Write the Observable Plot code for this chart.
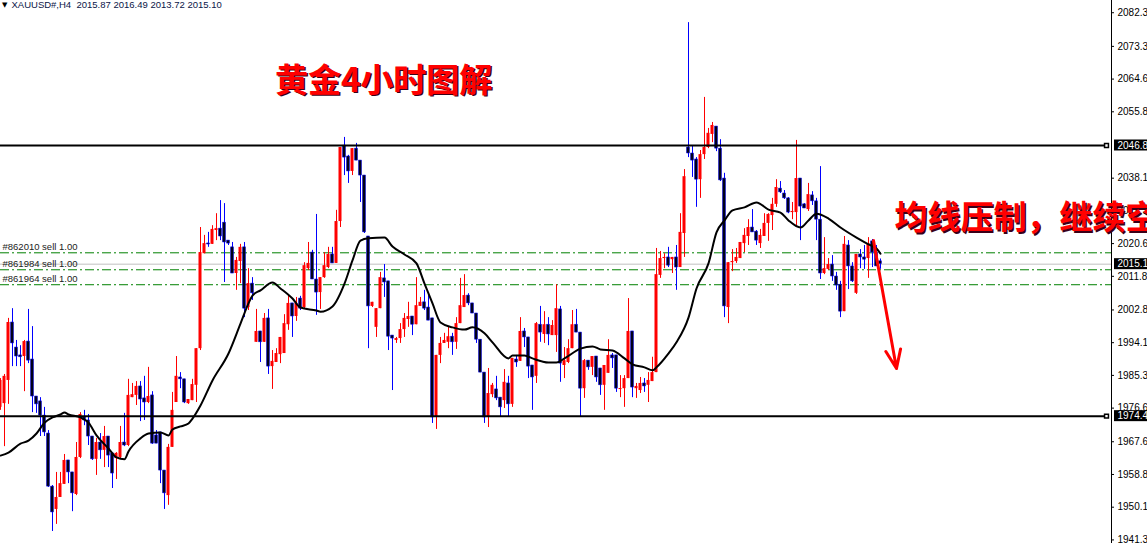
<!DOCTYPE html>
<html><head><meta charset="utf-8">
<script src="https://cdn.jsdelivr.net/npm/d3@7"></script>
<script src="https://cdn.jsdelivr.net/npm/@observablehq/plot@0.6"></script>
<style>
html,body{margin:0;padding:0;background:#fff;overflow:hidden}
#chart svg{display:block}
</style></head><body><div id="chart"></div>
<script>
// ---------- data ----------
const symbol = "XAUUSD#";
const timeframe = "H4";

const opens = [1976.8,1977.8,1984.0,1999.5,1992.8,1990.7,1990.4,1994.4,1989.6,1979.7,
1978.4,1974.6,1969.8,1955.6,1949.5,1952.7,1956.2,1962.6,1959.4,1953.5,
1963.4,1974.1,1973.3,1969.0,1962.9,1967.4,1965.3,1969.0,1964.5,1963.1,
1963.4,1967.4,1966.6,1979.4,1980.0,1982.4,1979.2,1978.1,1980.0,1969.3,
1970.1,1959.9,1953.2,1966.1,1978.1,1984.8,1984.3,1977.8,1978.6,1982.7,
1992.5,2017.9,2020.6,2020.4,2024.1,2024.6,2026.2,2021.4,2019.6,2012.6,
2015.8,2019.6,2003.5,2009.9,1994.2,1997.1,1994.2,2000.6,1987.7,1988.8,
1990.9,1991.2,1998.9,2004.6,2001.1,2005.9,2003.5,2013.9,2018.2,2011.0,
2007.5,2011.5,2014.2,2017.7,2015.3,2026.5,2046.8,2043.9,2039.9,2046.0,
2042.8,2038.8,2022.5,2003.8,1998.2,2003.2,2011.3,2010.5,1996.0,1994.7,
1995.2,1997.6,2000.3,2001.1,1998.9,2003.8,2004.9,2003.5,2000.6,1974.1,
1990.7,1993.9,1994.2,1995.7,1994.2,1999.2,2003.5,2006.7,2004.6,2001.9,
1994.9,1986.1,1974.1,1980.2,1981.6,1979.4,1978.6,1983.2,1977.6,1989.6,
1989.1,1997.1,1995.5,1988.0,1985.1,1998.9,1996.3,1998.9,1996.0,1996.0,
2003.0,1988.0,1988.8,1992.5,1998.9,1996.8,1981.8,1989.3,1987.5,1990.4,
1987.2,1982.7,1985.9,1990.7,1990.7,1981.6,1981.8,1984.5,1997.1,1981.8,
1981.3,1983.2,1982.7,1983.7,1986.1,2012.1,2016.6,2016.9,2016.3,2016.9,
2014.2,2023.3,2046.3,2044.7,2043.1,2037.7,2044.4,2046.3,2049.8,2051.9,
2046.0,2038.0,2003.5,2015.5,2015.8,2016.6,2020.6,2022.5,2024.9,2023.8,
2020.6,2022.5,2026.0,2028.1,2031.1,2035.3,2034.0,2032.7,2028.9,2028.9,
2038.0,2031.1,2029.7,2033.5,2031.9,2027.0,2012.6,2013.7,2015.0,2011.8,
2009.6,2002.4,2020.1,2014.5,2007.3,2017.7,2016.9,2016.6,2021.2,2018.2,
2015.87];
const highs = [1984.5,1985.6,2000.6,2003.2,1994.7,1993.3,1994.7,2003.0,1998.4,1979.7,
1979.4,1976.8,1970.6,1955.9,1959.4,1959.4,1964.2,1962.6,1959.4,1967.4,
1975.4,1976.0,1974.9,1969.0,1968.5,1969.8,1971.7,1969.0,1964.5,1964.7,
1971.7,1975.2,1984.3,1983.2,1983.7,1983.7,1985.1,1987.5,1981.0,1970.6,
1970.1,1959.9,1966.9,1980.8,1990.4,1986.1,1984.3,1978.9,1984.3,1992.5,
2024.9,2022.8,2023.6,2025.4,2028.6,2032.1,2031.3,2021.4,2020.9,2016.9,
2020.4,2020.9,2013.9,2011.5,2003.0,1997.1,2001.9,2003.0,1992.0,1992.5,
1995.5,2001.6,2006.7,2004.6,2006.2,2006.5,2015.5,2020.9,2018.8,2028.4,
2011.5,2018.2,2019.6,2019.6,2029.5,2046.3,2049.0,2044.2,2046.0,2047.4,
2042.8,2038.8,2022.5,2004.9,2003.2,2012.9,2015.0,2010.5,1996.0,1995.5,
1999.2,2001.9,2004.9,2001.1,2011.5,2006.2,2008.1,2006.7,2000.6,1990.7,
1995.5,1996.6,1998.2,1996.6,2000.8,2011.3,2012.3,2007.2,2004.6,2001.9,
1994.9,1986.1,1987.2,1983.2,1985.1,1979.4,1986.9,1985.1,1989.9,1990.7,
2000.8,1997.9,1995.5,1988.0,1999.5,2003.8,2002.4,2000.8,2000.0,2009.6,
2003.8,1992.8,1994.9,2002.7,2003.0,1996.8,1989.6,1989.3,1990.4,1990.4,
1987.2,1988.0,1994.9,1991.2,1990.7,1985.3,1985.3,2005.9,1997.1,1983.2,
1984.8,1984.5,1986.1,1990.2,2019.3,2018.5,2017.9,2019.6,2016.9,2020.1,
2028.6,2040.4,2079.7,2046.8,2043.6,2045.5,2059.7,2051.4,2053.0,2051.9,
2048.4,2039.4,2015.5,2019.0,2019.3,2020.9,2024.6,2027.0,2029.7,2024.1,
2024.4,2028.6,2028.6,2032.7,2037.7,2037.2,2034.8,2032.9,2031.6,2048.2,
2038.0,2031.3,2036.7,2034.5,2032.7,2041.2,2022.2,2016.6,2017.4,2012.9,
2010.5,2022.5,2021.4,2015.5,2017.7,2019.0,2020.1,2022.2,2021.7,2020.1,
2016.49];
const lows = [1976.0,1966.3,1977.6,1987.7,1987.7,1987.7,1981.0,1988.5,1975.4,1975.2,
1969.0,1969.0,1955.4,1943.6,1945.5,1952.7,1956.2,1956.4,1948.9,1953.2,
1963.1,1971.9,1966.6,1962.6,1958.6,1962.9,1960.7,1960.7,1955.1,1957.5,
1962.9,1966.3,1966.3,1979.4,1977.3,1973.0,1973.3,1977.8,1966.9,1967.1,
1956.4,1949.5,1950.6,1966.1,1978.1,1981.8,1977.8,1977.6,1978.6,1978.1,
1992.0,2017.9,2019.6,2020.4,2021.4,2021.4,2010.2,2020.1,2012.6,2008.1,
2009.9,2000.8,2002.7,2005.4,1994.2,1988.8,1994.2,1985.6,1981.6,1988.8,
1988.5,1991.2,1997.4,1995.5,1999.8,2002.7,2003.2,2013.4,2011.0,2001.4,
2003.0,2011.3,2013.9,2015.3,2015.3,2024.9,2038.8,2036.7,2038.8,2042.8,
2031.6,2023.3,1992.5,2003.5,1995.5,2003.2,2006.2,1992.0,1981.3,1993.9,
1993.9,1995.5,1998.2,1996.0,1998.9,2003.8,2002.7,2000.0,1972.5,1970.9,
1988.5,1993.9,1992.5,1990.7,1992.3,1999.2,2003.5,2004.0,2001.9,1993.9,
1986.1,1972.5,1971.4,1979.4,1978.6,1974.1,1976.5,1974.1,1976.8,1987.5,
1989.1,1992.8,1984.5,1976.0,1983.2,1994.2,1993.9,1993.3,1996.0,1991.5,
1983.5,1984.5,1988.5,1992.5,1996.8,1974.1,1979.2,1986.7,1985.3,1983.5,
1980.0,1976.0,1985.9,1987.2,1980.8,1979.4,1976.8,1984.5,1979.4,1979.2,
1980.5,1980.8,1978.1,1983.7,1986.1,2011.3,2013.9,2014.2,2012.6,2008.1,
2014.2,2016.9,2043.6,2038.3,2030.3,2032.7,2043.1,2046.0,2047.6,2045.2,
2037.2,2000.8,1999.2,2013.1,2015.3,2016.6,2018.2,2020.1,2023.6,2020.1,
2019.3,2022.5,2021.2,2024.1,2030.3,2034.0,2032.4,2028.6,2027.0,2025.4,
2021.4,2030.0,2029.2,2030.8,2021.4,2011.0,2012.3,2013.4,2010.5,2008.1,
2000.8,2002.4,2008.3,2010.2,2007.0,2013.9,2013.7,2011.3,2014.2,2014.5,
2013.72];
const closes = [1984.0,1985.1,1999.5,1993.9,1990.4,1990.2,1994.4,1989.3,1979.7,1977.6,
1974.6,1970.1,1955.6,1948.7,1952.7,1956.4,1962.6,1959.4,1953.8,1963.4,
1974.9,1973.3,1969.0,1962.9,1967.4,1965.3,1969.0,1963.9,1959.1,1964.5,
1967.4,1966.6,1980.0,1980.2,1982.4,1978.9,1978.1,1979.7,1967.1,1967.1,
1959.9,1953.8,1966.1,1976.0,1985.1,1984.3,1978.1,1978.9,1982.9,1992.5,
2018.2,2020.6,2020.4,2024.4,2024.6,2022.5,2020.9,2020.6,2012.6,2016.1,
2019.6,2003.2,2009.9,2007.3,1997.1,1994.2,2000.6,1987.7,1989.1,1991.2,
1995.5,1999.2,2004.6,2001.1,2004.6,2003.2,2014.7,2015.3,2011.0,2007.5,
2011.5,2014.7,2017.7,2015.3,2026.5,2046.3,2043.6,2039.9,2046.0,2042.8,
2038.8,2023.6,2003.8,2004.9,2003.2,2011.5,2010.2,1995.7,1995.2,1995.2,
1997.6,2000.6,2001.1,1998.9,2004.0,2004.9,2003.2,2000.0,1974.1,1990.7,
1993.9,1994.7,1995.7,1994.2,1999.2,2004.0,2006.7,2004.6,2001.9,1994.9,
1986.1,1974.1,1980.5,1982.7,1979.2,1976.8,1983.5,1977.6,1989.9,1988.8,
1997.1,1995.5,1987.7,1984.8,1999.2,1996.8,1998.9,1996.3,1998.7,2003.2,
1988.5,1989.3,1992.5,1998.9,1996.8,1981.8,1989.3,1987.5,1990.4,1984.8,
1982.7,1988.0,1990.7,1989.9,1981.8,1981.8,1984.5,1997.1,1982.1,1982.4,
1983.2,1982.4,1984.0,1986.1,2012.3,2016.6,2016.9,2014.7,2016.9,2014.2,
2023.6,2038.5,2044.7,2042.8,2037.7,2044.4,2046.3,2050.1,2052.2,2046.0,
2037.5,2003.8,2015.5,2015.8,2016.9,2020.9,2022.8,2024.9,2023.6,2021.4,
2022.8,2026.0,2028.4,2031.1,2035.6,2034.3,2032.7,2028.9,2029.2,2038.0,
2030.5,2030.0,2033.7,2031.9,2027.0,2012.6,2013.9,2015.0,2011.8,2009.4,
2002.4,2020.4,2014.5,2010.5,2017.7,2016.9,2016.3,2020.6,2018.2,2014.5,
2015.10];

// moving average (black line), read at candle indices
const maIndex = [0,2,5,7,9,11,13,15,16,17,20,22,24,27,29,31,32,35,37,40,42,43,45,47,48,50,53,57,60,62,63,65,68,70,73,75,79,80,83,86,88,90,92,96,98,101,104,106,108,110,113,116,118,121,123,127,128,131,133,137,139,141,145,148,150,153,156,158,161,163,164,167,169,172,174,177,179,181,183,186,189,192,195,197,200,202,204,207,210,214,217,219,220];
const maValue = [1963.9,1964.7,1967.1,1967.9,1969.8,1972.7,1974.1,1974.9,1975.4,1974.9,1974.1,1972.7,1969.3,1965.8,1963.4,1962.9,1965.0,1968.5,1969.8,1970.1,1969.3,1970.9,1971.7,1972.5,1973.8,1977.3,1984.0,1991.2,1999.2,2004.6,2006.7,2008.1,2010.2,2008.6,2005.9,2003.5,2002.7,2002.4,2003.8,2009.9,2016.1,2021.4,2022.0,2022.2,2019.8,2017.7,2015.3,2009.9,2004.6,1999.5,1998.2,1997.6,1998.2,1996.6,1994.2,1989.9,1990.7,1990.7,1989.9,1988.8,1988.8,1989.9,1992.5,1993.1,1992.3,1992.0,1989.9,1988.3,1987.5,1986.7,1987.5,1991.2,1994.2,2000.8,2008.6,2015.3,2023.6,2026.8,2029.5,2030.3,2031.6,2029.7,2028.9,2026.8,2024.9,2026.8,2028.6,2027.3,2024.9,2022.2,2020.4,2019.3,2017.9];

const levels = [2046.84, 1974.45];
const orderPrices = [2018.14, 2013.60, 2009.60];
const orderLabels = ["#862010 sell 1.00", "#861984 sell 1.00", "#861964 sell 1.00"];
const bidPrice = 2015.10;
const axisTicks = [2082.35, 2073.35, 2064.60, 2055.85, 2038.10, 2029.35, 2020.60, 2011.85, 2002.85, 1994.10, 1985.35, 1976.60, 1967.60, 1958.85, 1950.10, 1941.35];
const titleText = "黄金4小时图解";
const noteText = "均线压制，继续空";
// annotation anchors in data units (candle index, price)
const titleAt = {i: 68.6, price: 2064.0};
const noteAt = {i: 223.5, price: 2027.2};
const arrowAt = {x1: 218.25, y1: 2021.4, x2: 224.0, y2: 1987.2};

// ---------- layout ----------
const W = 1147, H = 543, MR = 36, BAR_PX = 4;
const xDomain = [0, (W - MR) / BAR_PX];
const xMax = xDomain[1];
const yDomain = [1940.39, 2085.62];

const candles = opens.map((o, i) => {
  const c = closes[i];
  const top = Math.max(o, c), bot = Math.min(o, c);
  const mid = (top + bot) / 2, half = Math.max((top - bot) / 2, 0.14);
  return {i, o, h: highs[i], l: lows[i], c, up: c > o, top: mid + half, bot: mid - half};
});
const bulls = candles.filter(d => d.up);
const bears = candles.filter(d => !d.up);
const ma = maIndex.map((i, j) => ({i, v: maValue[j]}));
const orders = orderPrices.map((p, j) => ({p, label: orderLabels[j]}));
const last = candles[candles.length - 1];
const header = `${symbol},${timeframe}\u00a0\u00a0${[last.o, last.h, last.l, last.c].map(v => v.toFixed(2)).join(" ")}`;
const highlights = [levels[0], bidPrice, levels[1]];
const cjk = "'Noto Sans CJK SC', sans-serif";
const latin = "'Liberation Sans', Arial, sans-serif";

const chart = Plot.plot({
  width: W, height: H,
  marginTop: 0, marginBottom: 0, marginLeft: 0, marginRight: MR,
  x: {domain: xDomain, axis: null},
  y: {domain: yDomain, axis: null},
  style: {background: "white", fontFamily: latin, fontSize: "10px", color: "black"},
  marks: [
    // price axis on the right
    Plot.ruleX([xMax], {stroke: "black"}),
    Plot.ruleY(axisTicks, {x1: xMax, x2: xMax + 0.75, stroke: "black"}),
    Plot.text(axisTicks, {y: d => d, text: d => d.toFixed(2), frameAnchor: "right", dx: 6, textAnchor: "start", fill: "black", fontSize: 10}),
    // bid line and order lines
    Plot.ruleY([bidPrice], {stroke: "#c0c0c0"}),
    Plot.ruleY(orders, {y: "p", stroke: "#008000", strokeDasharray: "9,3,2,3"}),
    Plot.text(orders, {y: "p", text: "label", frameAnchor: "left", dx: 2, dy: -5.5, textAnchor: "start", fill: "#1c1c1c", fontSize: 9.5}),
    // candles
    Plot.ruleX(bulls, {x: "i", y1: "l", y2: "h", stroke: "#ff0000"}),
    Plot.ruleX(bears, {x: "i", y1: "l", y2: "h", stroke: "#0000ff"}),
    Plot.rect(bulls, {x1: d => d.i - 0.375, x2: d => d.i + 0.375, y1: "bot", y2: "top", fill: "#ff0000"}),
    Plot.rect(bears, {x1: d => d.i - 0.375, x2: d => d.i + 0.375, y1: "bot", y2: "top", fill: "black"}),
    Plot.rect(bears, {x1: d => d.i - 0.3, x2: d => d.i + 0.3, y1: "bot", y2: "top", fill: "none", stroke: "#0000ff", strokeWidth: 0.6}),
    // horizontal levels
    Plot.ruleY(levels, {stroke: "black", strokeWidth: 2, insetRight: 5}),
    Plot.dot(levels, {y: d => d, frameAnchor: "right", dx: -5, symbol: "square", r: 2.2, fill: "white", stroke: "black", strokeWidth: 1.5}),
    // moving average
    Plot.line(ma, {x: "i", y: "v", stroke: "black", strokeWidth: 2, curve: "monotone-x"}),
    // highlighted price labels
    Plot.rect(highlights, {x1: xMax + 0.75, x2: xMax + 10, y1: d => d, y2: d => d, insetTop: -5.5, insetBottom: -5.5, fill: "black"}),
    Plot.text(highlights, {y: d => d, text: d => d.toFixed(2), frameAnchor: "right", dx: 6, textAnchor: "start", fill: "white", fontSize: 10}),
    // arrow
    Plot.arrow([arrowAt], {x1: "x1", y1: "y1", x2: "x2", y2: "y2", stroke: "#ff0000", strokeWidth: 3, headLength: 10, headAngle: 44}),
    // annotations
    Plot.text([titleAt], {x: "i", y: "price", text: () => titleText, textAnchor: "start", fontSize: 33, fontWeight: "bold", fontFamily: cjk, fill: "#3a0018", dx: 1.5, dy: 1.5}),
    Plot.text([titleAt], {x: "i", y: "price", text: () => titleText, textAnchor: "start", fontSize: 33, fontWeight: "bold", fontFamily: cjk, fill: "#ff0000"}),
    Plot.text([noteAt], {x: "i", y: "price", text: () => noteText, textAnchor: "start", fontSize: 33, fontWeight: "bold", fontFamily: cjk, fill: "#3a0018", dx: 1.5, dy: 1.5}),
    Plot.text([noteAt], {x: "i", y: "price", text: () => noteText, textAnchor: "start", fontSize: 33, fontWeight: "bold", fontFamily: cjk, fill: "#ff0000"}),
    // header
    Plot.text(["\u25BC"], {frameAnchor: "top-left", dx: 1.5, dy: 1.5, textAnchor: "start", lineAnchor: "top", fontSize: 7, fontFamily: "'DejaVu Sans', sans-serif", fill: "black"}),
    Plot.text([header], {frameAnchor: "top-left", dx: 11, dy: 0.5, textAnchor: "start", lineAnchor: "top", fontSize: 9.5, fill: "#0b1547"})
  ]
});
document.getElementById("chart").append(chart);
</script>
</body></html>
